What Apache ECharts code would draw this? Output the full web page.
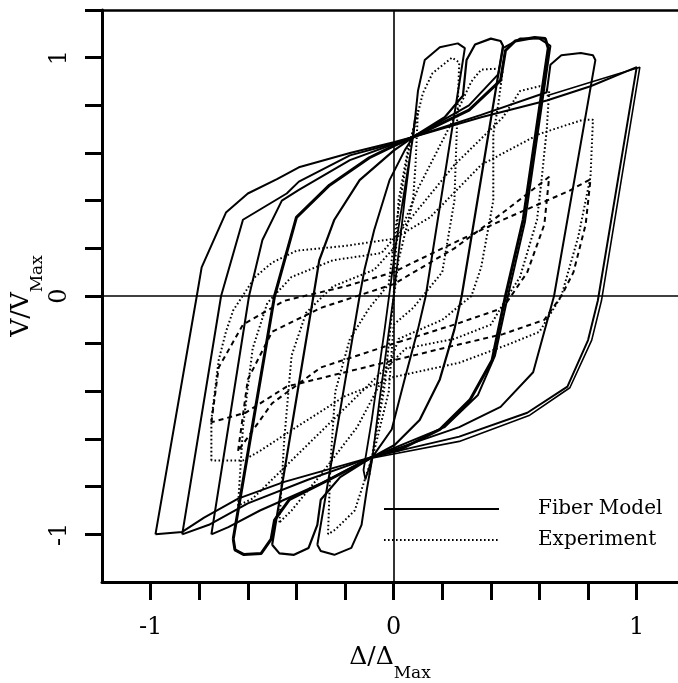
<!DOCTYPE html>
<html><head><meta charset="utf-8">
<script src="https://cdn.jsdelivr.net/npm/echarts@6/dist/echarts.min.js"></script>
<style>html,body{margin:0;padding:0;background:#fff}#c{width:678px;height:683px}</style>
</head><body><div id="c"></div>
<script>
// Axis ticks / labels
const xTicks = [-1,-0.8,-0.6,-0.4,-0.2,0,0.2,0.4,0.6,0.8,1];
const xLabels = [-1,0,1];
const yTicks = [-1,-0.8,-0.6,-0.4,-0.2,0,0.2,0.4,0.6,0.8,1,1.2];
const yLabels = [-1,0,1];

// Fiber Model cycles [Δ/ΔMax, V/VMax]
const fiberC6 = [[-0.98,-1.00],[-0.81,0.00],[-0.79,0.12],[-0.69,0.35],[-0.60,0.43],[-0.48,0.49],[-0.39,0.54],[-0.18,0.60],[0.00,0.645],[0.08,0.667],[0.36,0.75],[0.63,0.82],[0.81,0.88],[1.00,0.96],
  [0.84,-0.02],[0.80,-0.185],[0.715,-0.38],[0.55,-0.49],[0.27,-0.59],[-0.087,-0.675],[-0.45,-0.78],[-0.64,-0.85],[-0.78,-0.93],[-0.87,-0.99],[-0.98,-1.00]];
const fiberC6b = [[0.63,0.84],[0.82,0.90],[1.013,0.96],[0.855,-0.02],[0.815,-0.185],[0.725,-0.385],[0.56,-0.50],[0.27,-0.61],[-0.087,-0.68]];
const fiberC5 = [[-0.87,-1.00],[-0.71,0.00],[-0.62,0.32],[-0.44,0.43],[-0.39,0.48],[-0.18,0.59],[0.00,0.64],[0.08,0.667],[0.36,0.76],[0.63,0.855],[0.645,0.97],[0.69,1.01],[0.77,1.02],[0.82,1.01],[0.83,0.99],
  [0.66,0.00],[0.574,-0.32],[0.44,-0.465],[0.27,-0.55],[-0.087,-0.675],[-0.35,-0.77],[-0.60,-0.87],[-0.76,-0.96],[-0.87,-1.00]];
const fiberC4 = [[-0.66,-1.02],[-0.49,0.00],[-0.40,0.33],[-0.264,0.465],[-0.10,0.58],[0.00,0.63],[0.08,0.667],[0.31,0.78],[0.44,0.905],[0.46,1.03],[0.50,1.07],[0.58,1.085],[0.624,1.08],[0.636,1.04],
  [0.533,0.32],[0.46,0.00],[0.405,-0.27],[0.314,-0.436],[0.19,-0.56],[0.025,-0.645],[-0.087,-0.675],[-0.264,-0.77],[-0.43,-0.855],[-0.49,-0.94],[-0.504,-1.02],[-0.545,-1.08],[-0.616,-1.085],[-0.653,-1.065],[-0.66,-1.02]];
const fiberC4b = [[-0.75,-1.00],[-0.595,0.00],[-0.54,0.235],[-0.46,0.40],[-0.39,0.445],[-0.18,0.57],[0.08,0.667],[0.31,0.80],[0.43,0.93],[0.45,1.04],[0.52,1.08],[0.60,1.08],[0.645,1.05],
  [0.54,0.31],[0.47,0.00],[0.417,-0.25],[0.347,-0.415],[0.21,-0.55],[-0.087,-0.675],[-0.306,-0.79],[-0.55,-0.90],[-0.68,-0.97],[-0.75,-1.00]];
const fiberC3 = [[-0.50,-1.044],[-0.33,0.00],[-0.306,0.15],[-0.244,0.32],[-0.14,0.486],[0.00,0.61],[0.08,0.667],[0.21,0.75],[0.285,0.84],[0.30,0.99],[0.335,1.055],[0.40,1.08],[0.44,1.07],[0.45,1.05],
  [0.28,0.00],[0.25,-0.14],[0.19,-0.35],[0.107,-0.52],[0.004,-0.625],[-0.087,-0.675],[-0.22,-0.76],[-0.30,-0.855],[-0.314,-0.96],[-0.35,-1.057],[-0.41,-1.086],[-0.47,-1.08],[-0.50,-1.044]];
const fiberC2 = [[-0.314,-1.044],[-0.14,0.00],[-0.12,0.11],[-0.08,0.277],[-0.017,0.486],[0.045,0.61],[0.08,0.667],[0.10,0.86],[0.128,0.99],[0.19,1.044],[0.264,1.06],[0.293,1.04],
  [0.132,0.00],[0.10,-0.14],[0.045,-0.35],[-0.008,-0.56],[-0.087,-0.675],[-0.11,-0.81],[-0.132,-0.96],[-0.174,-1.057],[-0.244,-1.086],[-0.30,-1.07],[-0.314,-1.044]];
const fiberC1 = [[0.08,0.667],[0.087,0.74],[0.045,0.40],[0.00,0.00],[-0.058,-0.436],[-0.087,-0.675],[-0.116,-0.77],[-0.124,-0.73],[-0.09,-0.52],[-0.037,-0.14],[0.012,0.235],[0.058,0.53],[0.08,0.667]];

// Experiment cycles
const expE5 = [[-0.75,-0.69],[-0.75,-0.52],[-0.72,-0.27],[-0.69,-0.15],[-0.66,-0.06],[-0.57,0.08],[-0.50,0.14],[-0.40,0.19],[-0.20,0.21],[0.00,0.24],[0.15,0.33],[0.36,0.55],[0.60,0.68],[0.78,0.74],[0.82,0.74],
  [0.81,0.50],[0.76,0.25],[0.69,0.00],[0.60,-0.15],[0.48,-0.20],[0.27,-0.28],[0.00,-0.34],[-0.20,-0.42],[-0.40,-0.55],[-0.55,-0.65],[-0.62,-0.69],[-0.75,-0.69]];
const expE5b = [[-0.75,-0.53],[-0.72,-0.30],[-0.62,-0.12],[-0.45,-0.02],[-0.20,0.04],[0.00,0.10],[0.20,0.20],[0.45,0.32],[0.72,0.44],[0.81,0.49],
  [0.79,0.30],[0.74,0.10],[0.69,0.00],[0.62,-0.10],[0.45,-0.16],[0.20,-0.22],[0.00,-0.27],[-0.20,-0.32],[-0.44,-0.38],[-0.61,-0.49],[-0.75,-0.53]];
const expE4 = [[-0.64,-0.88],[-0.62,-0.55],[-0.58,-0.22],[-0.52,-0.03],[-0.42,0.08],[-0.25,0.15],[-0.05,0.18],[0.05,0.30],[0.25,0.55],[0.45,0.75],[0.52,0.86],[0.60,0.88],[0.64,0.86],
  [0.63,0.70],[0.61,0.50],[0.59,0.32],[0.52,0.08],[0.47,0.00],[0.40,-0.12],[0.25,-0.18],[0.05,-0.22],[-0.05,-0.32],[-0.25,-0.52],[-0.45,-0.72],[-0.58,-0.85],[-0.64,-0.88]];
const expE4b = [[-0.64,-0.65],[-0.60,-0.35],[-0.50,-0.15],[-0.30,-0.05],[0.00,0.05],[0.25,0.20],[0.45,0.35],[0.64,0.50],
  [0.62,0.30],[0.55,0.10],[0.45,-0.05],[0.25,-0.12],[0.00,-0.20],[-0.30,-0.30],[-0.50,-0.45],[-0.64,-0.65]];
const expE3 = [[-0.47,-0.95],[-0.45,-0.60],[-0.42,-0.25],[-0.36,-0.07],[-0.25,0.04],[-0.08,0.11],[0.00,0.20],[0.10,0.45],[0.25,0.75],[0.32,0.90],[0.36,0.95],[0.45,0.955],
  [0.43,0.80],[0.41,0.68],[0.41,0.40],[0.36,0.12],[0.32,0.00],[0.20,-0.10],[0.02,-0.18],[-0.02,-0.30],[-0.15,-0.55],[-0.30,-0.75],[-0.42,-0.90],[-0.47,-0.95]];
const expE2 = [[-0.27,-1.00],[-0.26,-0.70],[-0.24,-0.40],[-0.18,-0.18],[-0.10,-0.05],[-0.02,0.05],[0.01,0.30],[0.06,0.60],[0.12,0.85],[0.16,0.935],[0.24,1.00],[0.27,0.98],
  [0.26,0.70],[0.25,0.40],[0.20,0.10],[0.08,-0.05],[0.00,-0.12],[-0.02,-0.40],[-0.08,-0.65],[-0.16,-0.90],[-0.24,-0.98],[-0.27,-1.00]];
const expE1 = [[-0.10,-0.75],[-0.03,-0.30],[0.00,0.00],[0.02,0.40],[0.06,0.62],[0.10,0.78],[0.09,0.55],[0.08,0.40],[0.02,0.15],[-0.01,-0.10],[-0.04,-0.40],[-0.08,-0.62],[-0.10,-0.75]];

const FONT = 'DejaVu Serif';
function fiber(data, w) {
  return {type:'line', name:'Fiber Model', data:data, symbol:'none', showSymbol:false, silent:true,
    color:'#000', itemStyle:{color:'#000'},
    lineStyle:{color:'#000', width:w || 2, type:'solid'}, z:3, animation:false};
}
function exper(data, dash) {
  return {type:'line', name:'Experiment', data:data, symbol:'none', showSymbol:false, silent:true,
    color:'#000', itemStyle:{color:'#000'},
    lineStyle:{color:'#000', width:2, type:dash || [1.6, 2.4]}, z:3, animation:false};
}

const series = [
  fiber(fiberC6, 2),
  exper(expE5),
  fiber(fiberC6b, 1.6), fiber(fiberC5, 2), fiber(fiberC4, 3), fiber(fiberC4b, 2),
  fiber(fiberC3, 2.2), fiber(fiberC2, 2), fiber(fiberC1, 1.8),
  exper(expE5b, [5, 4]), exper(expE4), exper(expE4b, [5, 4]), exper(expE3), exper(expE2), exper(expE1)
];
series[0].markLine = {silent:true, symbol:['none','none'], label:{show:false}, animation:false,
  lineStyle:{color:'#000', type:'solid', width:1.6}, emphasis:{disabled:true},
  data:[{xAxis:0},{yAxis:0}]};

const richName = {
  a:{fontFamily:FONT, fontSize:25, color:'#000', verticalAlign:'bottom', padding:[0,0,12,0]},
  b:{fontFamily:FONT, fontSize:17, color:'#000', verticalAlign:'bottom'}
};

const chart = echarts.init(document.getElementById('c'), null, {renderer:'canvas'});
chart.setOption({
  backgroundColor:'#fff',
  animation:false,
  grid:{left:102, right:0, top:10, bottom:101, containLabel:false, outerBoundsMode:'none'},
  legend:{
    data:['Fiber Model','Experiment'], orient:'vertical', left:383, top:489,
    itemWidth:115, itemHeight:14, itemGap:11, backgroundColor:'#fff',
    padding:[10,10,6,0], selectedMode:false,
    itemStyle:{color:'rgba(0,0,0,0)', borderWidth:0, opacity:0},
    textStyle:{fontFamily:FONT, fontSize:20, color:'#000', padding:[0,0,0,34]}
  },
  xAxis:[{
    type:'value', min:-1.2, max:1.17, position:'bottom',
    axisLine:{onZero:false, lineStyle:{color:'#000', width:3}},
    axisTick:{show:true, inside:false, length:18, customValues:xTicks, lineStyle:{color:'#000', width:3}},
    axisLabel:{customValues:xLabels, margin:34, fontFamily:FONT, fontSize:24, color:'#000'},
    splitLine:{show:false},
    name:'{a|Δ/Δ}{b|Max}', nameLocation:'middle', nameGap:63, nameMoveOverlap:false,
    nameTextStyle:{color:'#000', rich:richName}
  },{
    type:'value', min:-1.2, max:1.17, position:'top',
    axisLine:{onZero:false, lineStyle:{color:'#000', width:2.5}},
    axisTick:{show:false}, axisLabel:{show:false}, splitLine:{show:false}
  }],
  yAxis:{
    type:'value', min:-1.2, max:1.2,
    axisLine:{onZero:false, lineStyle:{color:'#000', width:3}},
    axisTick:{show:true, inside:false, length:17, customValues:yTicks, lineStyle:{color:'#000', width:3}},
    axisLabel:{customValues:yLabels, rotate:90, margin:30, fontFamily:FONT, fontSize:24, color:'#000'},
    splitLine:{show:false},
    name:'{a|V/V}{b|Max}', nameLocation:'middle', nameGap:56, nameRotate:90, nameMoveOverlap:false,
    nameTextStyle:{color:'#000', rich:richName}
  },
  series: series
});
</script>
</body></html>
